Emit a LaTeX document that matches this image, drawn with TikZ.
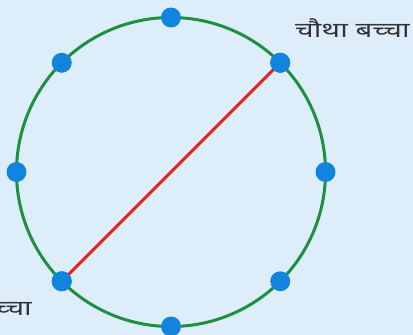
\documentclass[tikz,border=0pt]{standalone}
\usepackage{fontspec}
\usetikzlibrary{calc}
\newfontfamily\devfont[Script=Devanagari]{Noto Sans}
\definecolor{bg}{RGB}{221,238,250}
\definecolor{ringgreen}{RGB}{30,145,65}
\definecolor{dotblue}{RGB}{18,132,222}
\definecolor{linered}{RGB}{225,35,40}
\definecolor{txt}{RGB}{50,50,55}
\newcommand{\widetxt}[1]{\scalebox{1.4}[1]{#1}}
\begin{document}
\begin{tikzpicture}[x=1pt,y=-1pt,
  dot/.style={circle,fill=dotblue,inner sep=0pt,minimum size=20pt},
  lbl/.style={font=\devfont\fontsize{21}{24}\selectfont,text=txt,inner sep=0pt}]
\fill[bg] (0,0) rectangle (413,335);
\useasboundingbox (0,0) rectangle (413,335);
\coordinate (c) at (171,172);
\draw[ringgreen,line width=3pt] (c) circle (154.5);
\foreach \a/\n in {90/n,45/ne,0/e,-45/se,-90/s,-135/sw,180/w,135/nw}{
  \node[dot] (\n) at ($(c)+(\a:154.5 and -154.5)$) {};
}
\draw[linered,line width=3pt] (sw.center) -- (ne.center);
\node[dot] at (sw) {};
\node[dot] at (ne) {};
\node[lbl,anchor=base west] (l1) at (295,37) {\widetxt{चौथा बच्चा}};
\node[lbl,anchor=base east] (l2) at (32,315) {\widetxt{पहला बच्चा}};
\end{tikzpicture}
\end{document}
